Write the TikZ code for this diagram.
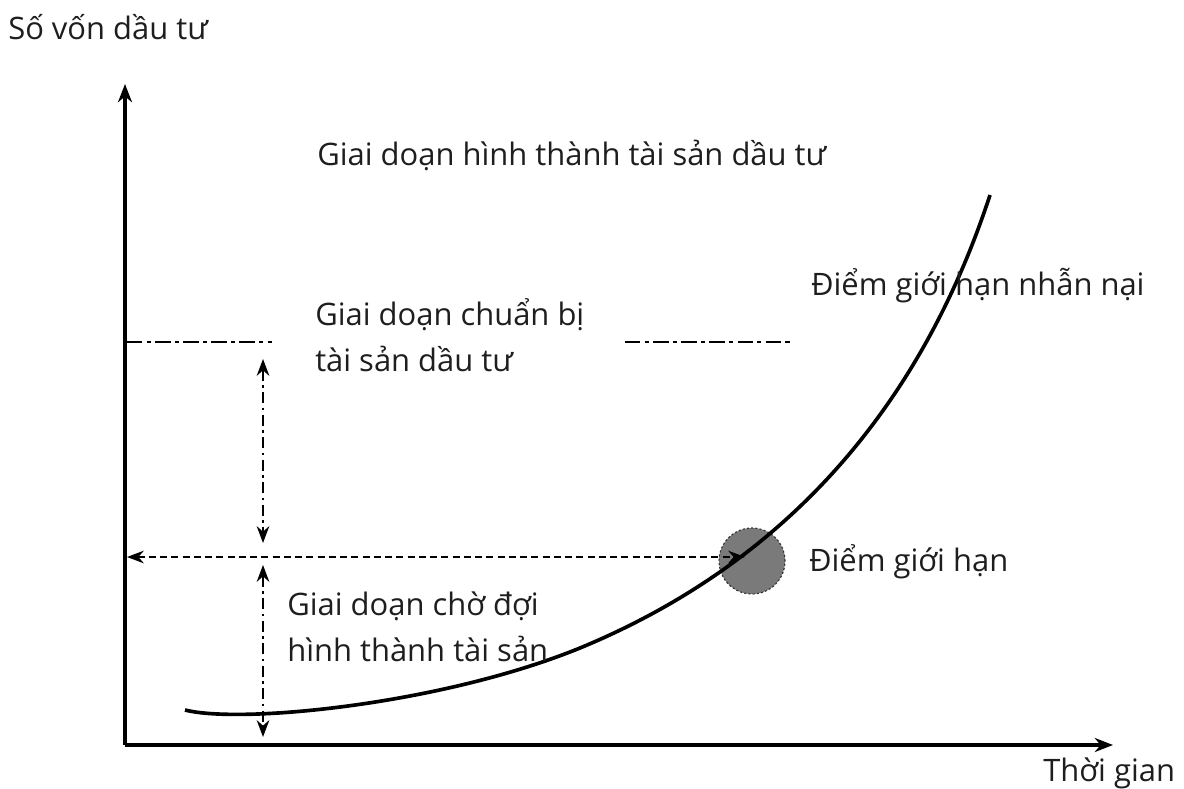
\documentclass[tikz,border=0pt]{standalone}
\usepackage{fontspec}
\setmainfont{Open Sans}
\usepackage{xcolor}
\usetikzlibrary{arrows.meta,positioning,calc}
\definecolor{InkGray}{HTML}{1E1E1E}
\definecolor{DotGray}{HTML}{7A7A7A}

\begin{document}
\begin{tikzpicture}[x=0.025cm, y=-0.025cm, >={Stealth[length=12pt,width=9pt]},
  lbl/.style={font=\fontsize{22}{33}\selectfont, text=InkGray, inner sep=0pt, align=left},
  axis/.style={->, line width=2.2pt, black, >={Stealth[length=13pt,width=10pt]}},
  curve/.style={line width=2.6pt, black},
  guide/.style={line width=1.3pt, dash pattern=on 11pt off 3pt on 3pt off 3pt},
  span/.style={<->, line width=1.2pt, dash pattern=on 8pt off 3pt on 2pt off 3pt},
  reach/.style={<->, line width=1.2pt, dash pattern=on 5pt off 3pt},
  spot/.style={circle, minimum size=66*0.025cm, inner sep=0pt, fill=DotGray, draw=black!80, line width=0.8pt, dash pattern=on 1.5pt off 1.5pt}]
\useasboundingbox (0,0) rectangle (1184,789);

% axes
\coordinate (origin) at (125,745);
\coordinate (ytop) at (125,84);
\coordinate (xend) at (1113,745);
\draw[axis] (origin) -- (ytop);
\draw[axis] (origin) -- (xend);
\node[lbl, anchor=west] (ylabel) at (8,27) {Số vốn dầu tư};
\node[lbl, anchor=west] (xlabel) at (1043,773) {Thời gian};

% limit point
\node[spot] (limit) at (752,561) {};

% growth curve
\coordinate (cstart) at (185,710);
\coordinate (cmid) at (580,648);
\coordinate (cend) at (990,195);
\draw[curve] (cstart) .. controls (240,724) and (440,705) .. (cmid)
  .. controls (720,590) and (900,470) .. (cend);

% stage guide
\coordinate (g1a) at (127,342);
\coordinate (g1b) at (272,342);
\coordinate (g2a) at (625,342);
\coordinate (g2b) at (790,342);
\draw[guide] (g1a) -- (g1b);
\draw[guide] (g2a) -- (g2b);

% spans
\coordinate (s1top) at (263,359);
\coordinate (s1bot) at (263,543);
\coordinate (s2top) at (263,565);
\coordinate (s2bot) at (263,737);
\coordinate (rleft) at (127,557);
\coordinate (rright) at (745,557);
\draw[span] (s1top) -- (s1bot);
\draw[span] (s2top) -- (s2bot);
\draw[reach] (rleft) -- (rright);

% labels
\node[lbl, anchor=west] (form) at (317,155) {Giai doạn hình thành tài sản dầu tư};
\node[lbl, anchor=west] (prep) at (315,335) {Giai doạn chuẩn bị\\tài sản dầu tư};
\node[lbl, anchor=west] (wait) at (287,627) {Giai doạn chờ đợi\\hình thành tài sản};
\node[lbl, anchor=west] (endure) at (811,286) {Điểm giới hạn nhẫn nại};
\node[lbl, anchor=west] (limitlbl) at (809,562) {Điểm giới hạn};

\end{tikzpicture}
\end{document}
